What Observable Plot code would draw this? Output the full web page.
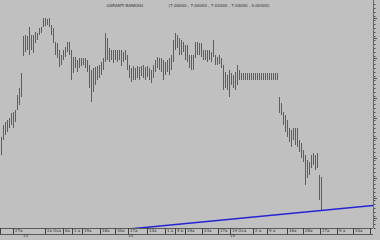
<!DOCTYPE html>
<html>
<head>
<meta charset="utf-8">
<script src="https://cdn.jsdelivr.net/npm/d3@7"></script>
<script src="https://cdn.jsdelivr.net/npm/@observablehq/plot@0.6"></script>
<style>
  html, body { margin: 0; padding: 0; background: #c0c0c0; }
  #chart { width: 380px; height: 240px; overflow: hidden; }
  svg { display: block; }
</style>
</head>
<body>
<div id="chart"></div>
<script>
// Weekly bars: highs and lows (price), one per bar index
const highs = [
  8.42, 8.66, 8.72, 8.76, 8.80, 8.90, 8.92, 8.96, 9.26, 9.40,
  9.70, 10.44, 10.46, 10.44, 10.62, 10.46, 10.46, 10.52, 10.50, 10.60,
  10.62, 10.80, 10.80, 10.78, 10.80, 10.66, 10.60, 10.32, 10.30, 10.16,
  10.06, 10.16, 10.22, 10.32, 10.32, 10.16, 10.02, 10.02, 9.96, 10.00,
  10.00, 10.00, 10.00, 9.96, 9.86, 9.76, 9.80, 9.82, 9.84, 9.86,
  9.92, 10.00, 10.50, 10.40, 10.20, 10.16, 10.16, 10.16, 10.16, 10.16,
  10.16, 10.12, 10.16, 10.06, 9.86, 9.80, 9.84, 9.80, 9.84, 9.82,
  9.84, 9.86, 9.82, 9.84, 9.80, 9.76, 9.86, 9.96, 10.02, 10.00,
  10.00, 9.96, 9.92, 9.96, 10.00, 10.06, 10.36, 10.50, 10.46, 10.40,
  10.36, 10.32, 10.26, 10.26, 10.06, 10.06, 10.06, 10.32, 10.32, 10.30,
  10.30, 10.16, 10.16, 10.16, 10.16, 10.12, 10.36, 10.06, 10.02, 10.06,
  10.00, 9.86, 9.72, 9.66, 9.76, 9.70, 9.66, 9.72, 9.86, 9.76,
  9.70, 9.70, 9.70, 9.70, 9.70, 9.70, 9.70, 9.70, 9.70, 9.70,
  9.70, 9.70, 9.70, 9.70, 9.70, 9.70, 9.70, 9.70, 9.70, 9.22,
  9.10, 8.92, 8.86, 8.76, 8.60, 8.56, 8.60, 8.60, 8.60, 8.36,
  8.30, 8.16, 8.06, 7.96, 7.92, 8.06, 8.10, 8.06, 8.10, 7.66,
  7.62
];
const lows = [
  8.06, 8.36, 8.46, 8.52, 8.60, 8.66, 8.60, 8.72, 8.96, 9.06,
  9.22, 10.04, 10.12, 10.16, 10.06, 10.16, 10.10, 10.30, 10.36, 10.46,
  10.50, 10.62, 10.64, 10.66, 10.62, 10.46, 10.30, 10.06, 10.00, 9.82,
  9.86, 9.96, 10.02, 10.12, 10.06, 9.56, 9.70, 9.80, 9.72, 9.80,
  9.84, 9.86, 9.80, 9.72, 9.40, 9.12, 9.32, 9.46, 9.56, 9.60,
  9.66, 9.76, 9.92, 9.96, 9.92, 9.96, 9.90, 9.96, 9.92, 9.96,
  9.84, 9.92, 9.96, 9.76, 9.60, 9.52, 9.56, 9.56, 9.60, 9.56,
  9.64, 9.60, 9.56, 9.62, 9.56, 9.50, 9.60, 9.72, 9.80, 9.76,
  9.72, 9.56, 9.66, 9.72, 9.66, 9.76, 9.92, 10.16, 10.20, 10.06,
  10.06, 10.12, 9.96, 9.92, 9.80, 9.76, 9.76, 10.00, 10.06, 10.06,
  10.02, 9.96, 9.96, 9.92, 9.96, 9.92, 10.02, 9.86, 9.86, 9.88,
  9.80, 9.36, 9.40, 9.36, 9.22, 9.46, 9.40, 9.36, 9.46, 9.56,
  9.56, 9.56, 9.56, 9.56, 9.56, 9.56, 9.56, 9.56, 9.56, 9.56,
  9.56, 9.56, 9.56, 9.56, 9.56, 9.56, 9.56, 9.56, 9.56, 8.90,
  8.86, 8.66, 8.52, 8.42, 8.32, 8.22, 8.36, 8.26, 8.22, 8.12,
  8.00, 7.92, 7.46, 7.60, 7.66, 7.80, 7.86, 7.76, 7.80, 7.16,
  6.96
];

// Trend line end points (bar index, price)
const trendIdx = [56, 186];
const trendPrice = [6.56, 7.06];

// Bottom date strip: separator positions (bar index) and labels
const sepIdx = [6, 22, 31, 35.5, 40.5, 49.5, 57, 63.5, 73, 82, 87, 92, 100.5, 108.5, 114.5, 126, 133, 143, 151, 159.5, 168, 176, 184.5];
const sepLabels = ["27a", "2a Oca", "8a", "1 a", "19a", "18a", "30a", "17a", "14a", "1 a", "5 b", "19a", "23a", "17a", "19 Oca", "2 a", "9 a", "16a", "28a", "17a", "9 a", "10a", ""];
const yearIdx = [12, 64.5, 115.5];
const yearLabels = ["13", "14", "15"];

// Right axis ticks
const majorTicks = [10.8, 10.4, 10.0, 9.6, 9.2, 8.8, 8.4, 8.0, 7.6, 7.2, 6.8];
const minorTicks = [6.6, 6.68, 6.76, 6.84, 6.92, 7.0, 7.08, 7.16, 7.24, 7.32, 7.4, 7.48, 7.56, 7.64, 7.72, 7.8, 7.88, 7.96, 8.04, 8.12, 8.2, 8.28, 8.36, 8.44, 8.52, 8.6, 8.68, 8.76, 8.84, 8.92, 9.0, 9.08, 9.16, 9.24, 9.32, 9.4, 9.48, 9.56, 9.64, 9.72, 9.8, 9.88, 9.96, 10.04, 10.12, 10.2, 10.28, 10.36, 10.44, 10.52, 10.6, 10.68, 10.76, 10.84, 10.92, 11.0, 11.08];

// Header texts
const titleText = "GARANTI BANKASI";
const valuesText = "(7.00000 , 7.00000 , 7.02000 , 7.04000 , 0.00000)";

const bars = highs.map((h, i) => ({i, hi: h, lo: lows[i]}));
const trend = trendIdx.map((x, k) => ({i: x, p: trendPrice[k]}));
const seps = sepIdx.map((x, k) => ({i: x, label: sepLabels[k]}));
const years = yearIdx.map((x, k) => ({i: x, label: yearLabels[k]}));
const header = [{i: 52.5, t: titleText}, {i: 83.5, t: valuesText}];

const chart = Plot.plot({
  width: 380,
  height: 240,
  marginTop: 0,
  marginLeft: 0,
  marginRight: 7,
  marginBottom: 12,
  style: {background: "#c0c0c0", fontFamily: "DejaVu Sans", fontSize: "4.5px"},
  x: {domain: [-0.5, 186], axis: null},
  y: {domain: [6.6, 11.16], axis: null},
  marks: [
    Plot.ruleX(bars, {x: "i", y1: "lo", y2: "hi", stroke: "#5e5e5e", strokeWidth: 1}),
    Plot.line(trend, {x: "i", y: "p", stroke: "#2424d4", strokeWidth: 1.5, clip: true}),
    // right axis
    Plot.ruleX([186], {stroke: "#505050", strokeWidth: 0.8}),
    Plot.axisY({anchor: "right", ticks: minorTicks, tickSize: 1.5, tickFormat: () => "", stroke: "#505050", label: null}),
    Plot.axisY({anchor: "right", ticks: majorTicks, tickSize: 3, tickFormat: () => "", stroke: "#505050", label: null}),
    // bottom date strip
    Plot.ruleY([6.6], {stroke: "#404040", strokeWidth: 0.8}),
    Plot.ruleY([6.6], {stroke: "#404040", strokeWidth: 0.8, dy: 6}),
    Plot.axisX({ticks: [-0.5, ...sepIdx], tickSize: 6, tickFormat: () => "", stroke: "#404040", label: null}),
    Plot.text(seps, {x: "i", text: "label", frameAnchor: "bottom", dy: 3, dx: 1.5, textAnchor: "start", fill: "#303030", fontSize: 4}),
    Plot.text(years, {x: "i", text: "label", frameAnchor: "bottom", dy: 8.5, fill: "#303030", fontSize: 4}),
    // header
    Plot.text(header, {x: "i", text: "t", frameAnchor: "top", dy: 4, textAnchor: "start", fill: "#303030", fontSize: 4})
  ]
});
document.getElementById("chart").appendChild(chart);
</script>
</body>
</html>
